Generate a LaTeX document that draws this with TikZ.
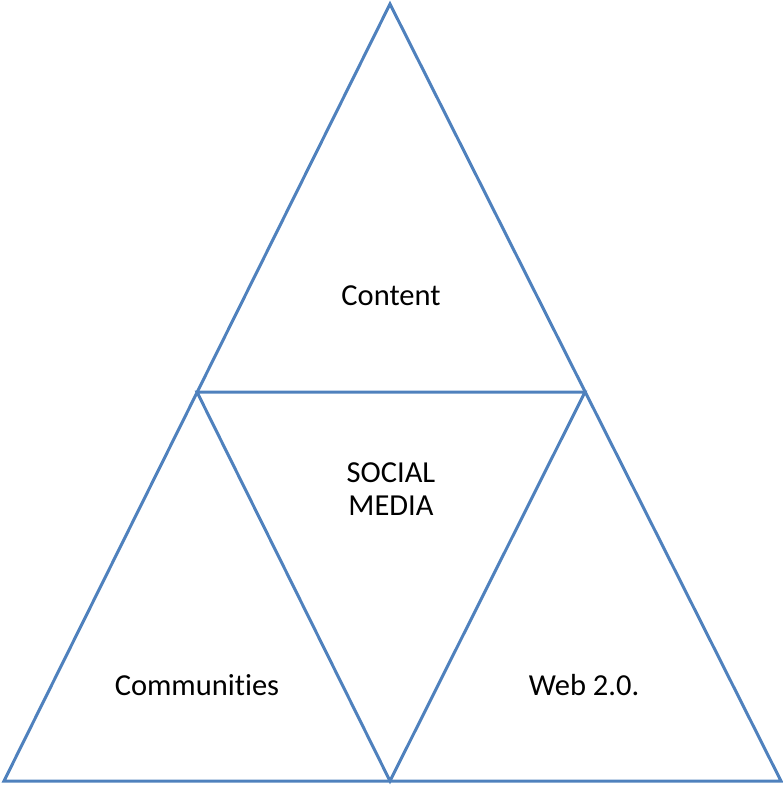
\documentclass[tikz,border=0pt]{standalone}
\usepackage{fontspec}
\setmainfont[Ligatures=CommonOff]{Carlito}
\definecolor{triblue}{RGB}{79,129,189}
\tikzset{tri/.append style={draw=triblue,line width=3pt}}
\tikzset{lb/.append style={inner sep=0pt,align=center,font=\fontsize{30.5}{33}\selectfont}}

\begin{document}
\begin{tikzpicture}[x=1pt,y=-1pt]
                \useasboundingbox (0,0) rectangle (783,785);
                % corners and midpoints
                \coordinate (t) at (390,4);
                \coordinate (bl) at (4,781);
                \coordinate (br) at (781,781);
                \coordinate (ml) at (197,392);
                \coordinate (mr) at (585,392);
                \coordinate (mb) at (390,781);
                \draw[tri] (t) -- (bl) -- (br) -- cycle;
                \draw[tri] (ml) -- (mr) -- (mb) -- cycle;
                % labels
                \node[lb] (content) at (391,296) {Content};
                \node[lb] (social) at (391,489) {SOCIAL\\MEDIA};
                \node[lb] (comm) at (197,685) {Communities};
                \node[lb] (web) at (584,685) {Web 2.0.};
            \end{tikzpicture}
\end{document}
